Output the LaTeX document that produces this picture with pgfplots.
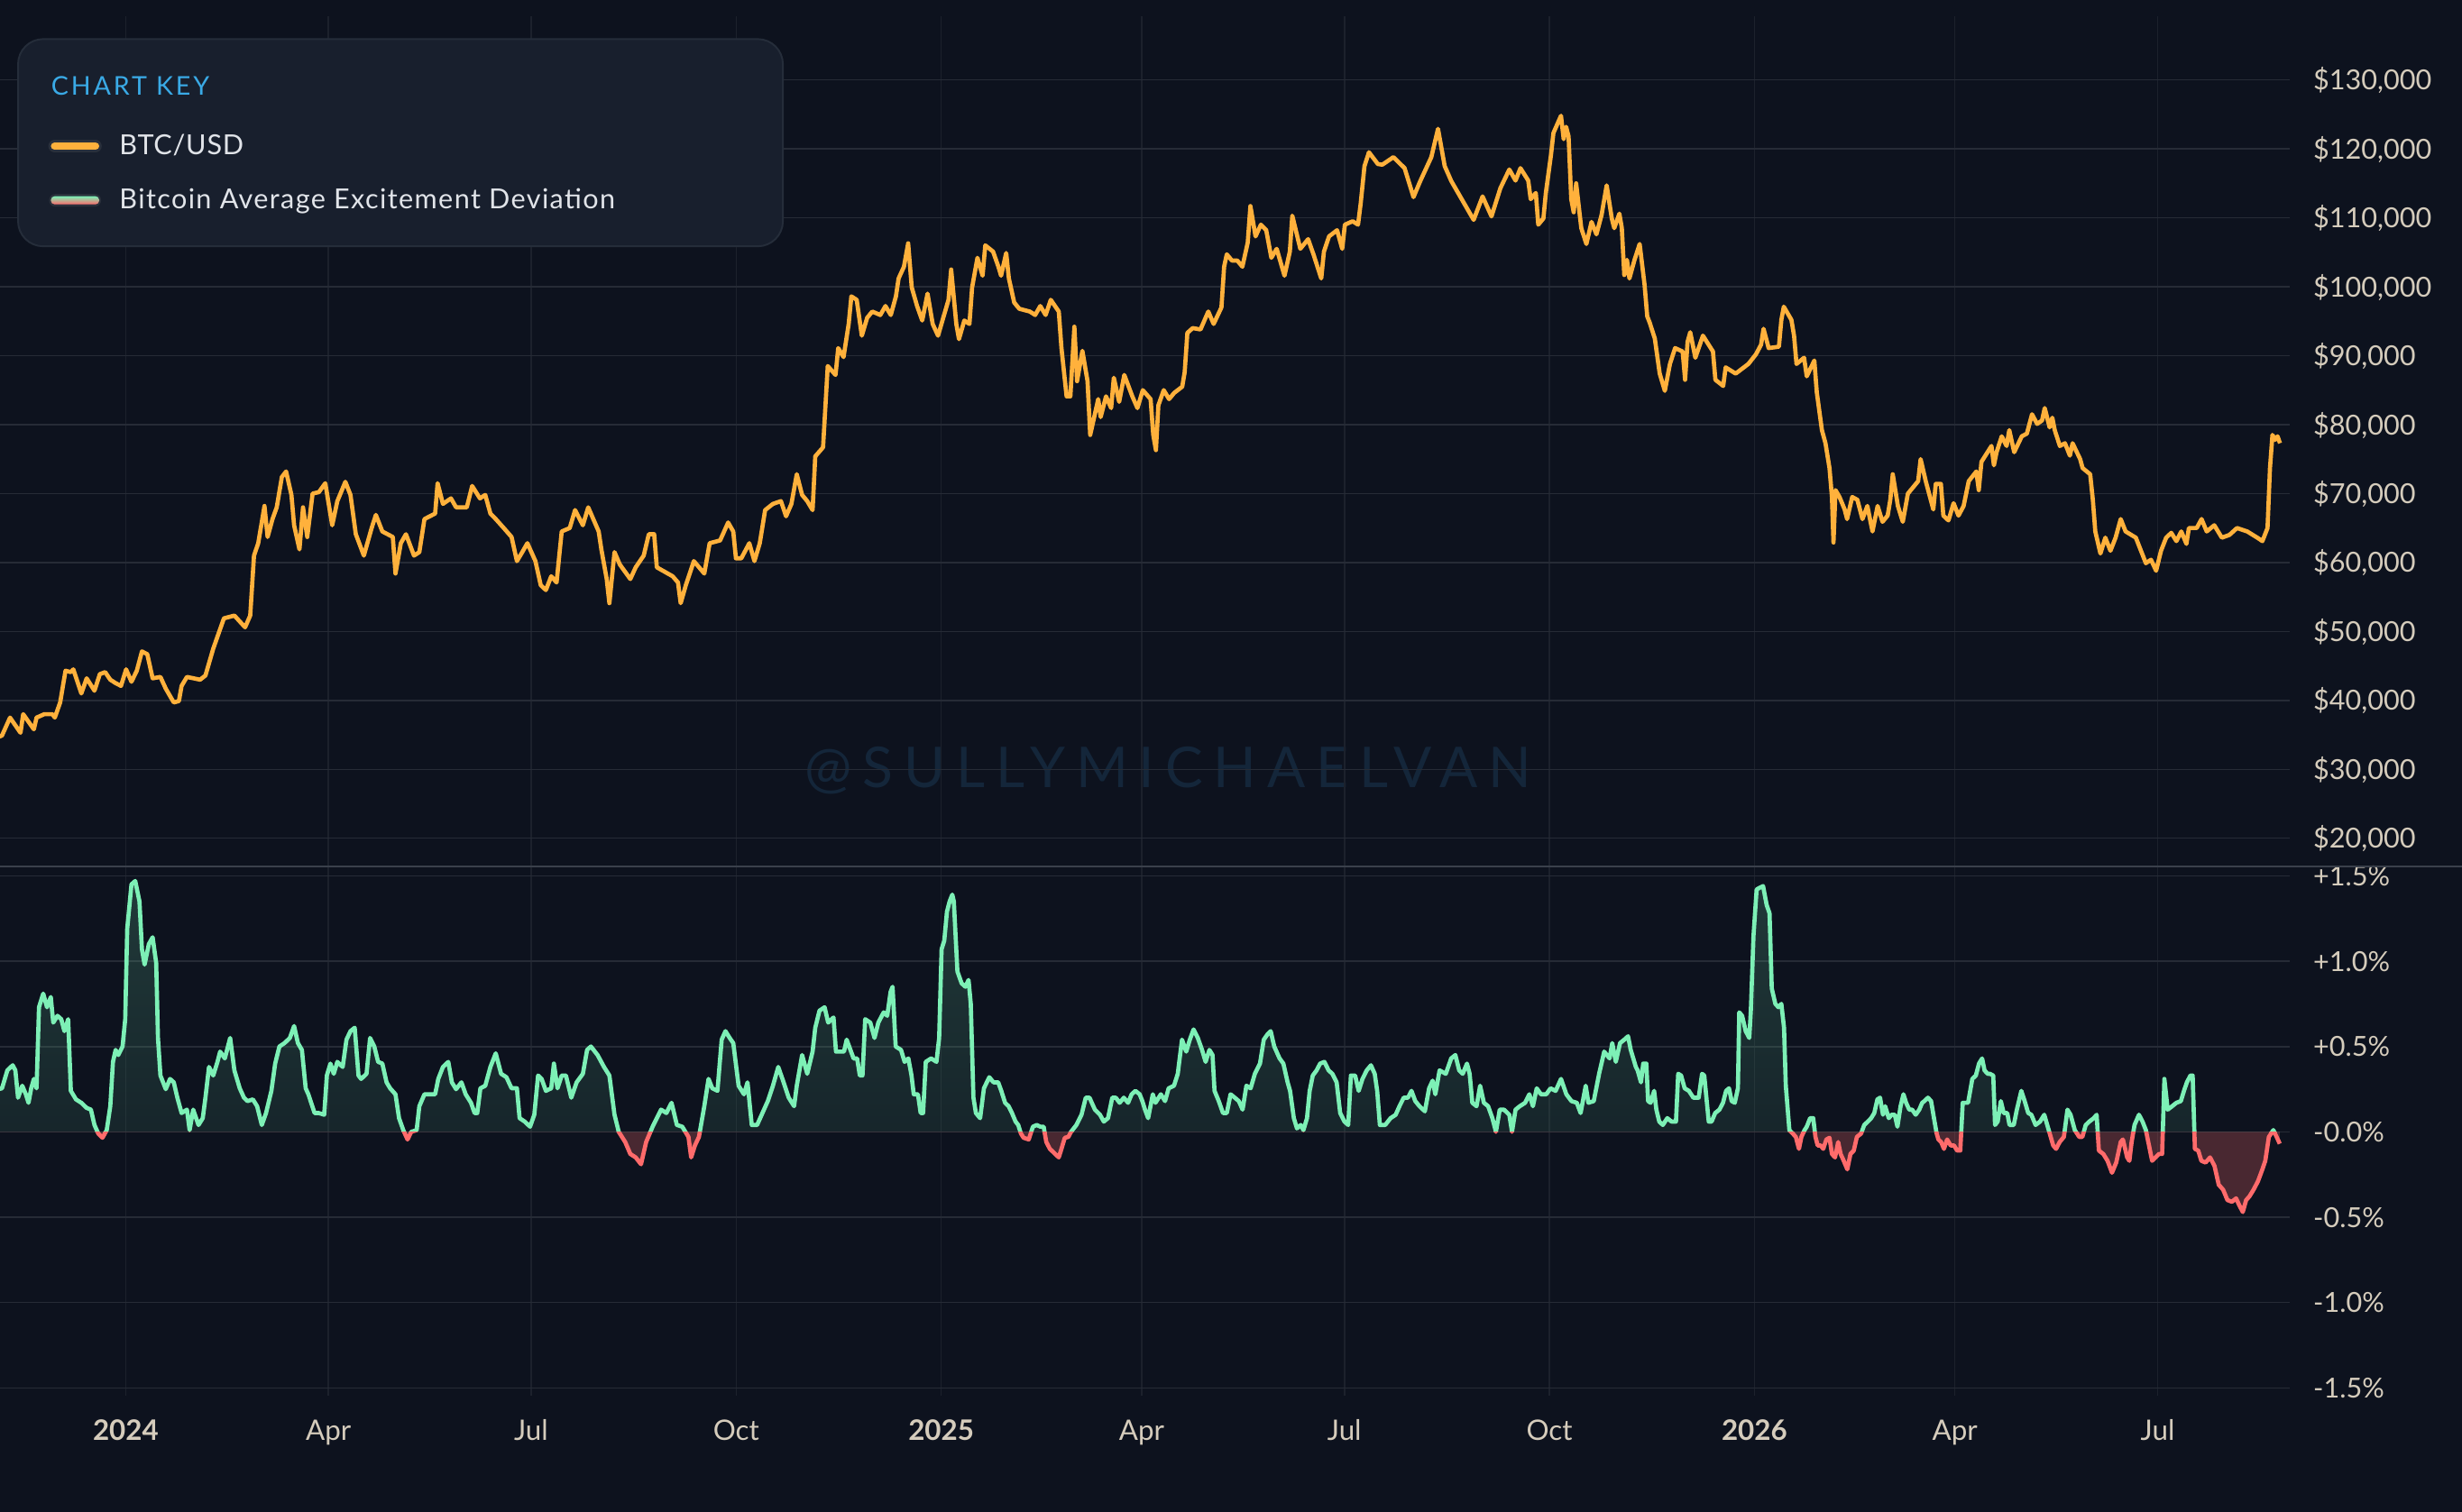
\documentclass[border=0pt]{standalone}
\usepackage{fontspec}
\setmainfont{Lato}
\usepackage{pgfplots}
\usepackage{pgfplotstable}
\pgfplotsset{compat=1.18}

\definecolor{bg}{HTML}{0D121E}
\definecolor{gridc}{HTML}{262B36}
\definecolor{vgridc}{HTML}{1C212C}
\definecolor{sepc}{HTML}{3A404B}
\definecolor{btc}{HTML}{FFB13C}
\definecolor{gup}{HTML}{7DF0B6}
\definecolor{rdn}{HTML}{FF6B6B}
\definecolor{tickc}{HTML}{D5CCBC}
\definecolor{legbg}{HTML}{181F2D}
\definecolor{legbd}{HTML}{252D3A}
\definecolor{keyc}{HTML}{3AAAE6}
\definecolor{legtext}{HTML}{E1E4E9}
\definecolor{wm}{HTML}{14263A}
\definecolor{swo}{HTML}{2A303B}

\pgfplotstableread{
d p
-57 34.7
-55.5 34.9
-51.9 37.5
-47.2 35.3
-46.0 38.0
-41.2 35.8
-40.0 37.5
-36.5 38.0
-32.9 38.0
-31.8 37.5
-29.4 39.7
-27.0 44.3
-24.6 44.1
-23.5 44.5
-19.9 41.0
-17.5 43.2
-14.0 41.4
-11.6 43.8
-9.2 44.1
-6.9 43.0
-4.5 42.5
-2.1 42.1
0.2 44.5
2.6 42.7
5.0 44.3
7.3 47.1
9.7 46.7
12.1 43.2
15.6 43.4
18.0 41.7
21.6 39.7
23.9 39.9
25.1 42.1
27.5 43.4
33.4 43.0
35.8 43.6
39.3 47.5
44.1 51.9
48.8 52.3
53.6 50.6
55.9 52.3
57.6 61.0
59.5 62.8
62.3 68.2
63.7 63.7
65.9 66.3
67.8 68.0
70.1 72.4
72.0 73.2
74.4 69.8
75.6 65.4
78.0 61.9
79.6 68.0
81.5 63.7
83.9 70.0
86.7 70.2
89.6 71.5
92.7 65.4
95.0 68.9
98.6 71.7
100.9 69.8
103.3 64.1
106.9 61.0
110.4 65.0
112.3 66.9
115.2 64.5
119.9 63.7
121.1 58.4
123.5 62.8
125.8 64.1
129.4 61.0
131.8 61.5
134.1 66.3
138.9 67.1
140.0 71.5
142.4 68.5
146.0 69.3
148.3 68.0
153.1 68.0
155.5 71.1
159.0 69.3
161.4 69.8
163.7 67.1
166.1 66.3
169.7 65.0
173.2 63.7
175.6 60.2
178.0 61.5
180.3 62.8
183.9 60.2
186.3 56.7
188.6 56.0
191.0 58.0
193.4 57.1
195.7 64.5
199.3 65.0
201.7 67.6
205.2 65.4
207.6 68.0
212.3 64.5
213.5 61.9
215.9 57.6
217.1 54.1
219.4 61.5
221.8 59.7
226.5 57.6
228.9 59.3
232.5 61.0
234.8 64.1
237.2 64.1
238.4 59.3
245.5 58.0
247.9 57.1
249.1 54.1
251.4 56.7
255.0 60.2
259.7 58.4
262.1 62.8
266.8 63.2
270.4 65.8
272.7 64.5
273.9 60.6
276.3 60.6
279.9 62.8
282.2 60.2
284.6 62.8
287.0 67.6
290.5 68.5
294.1 68.9
296.4 66.7
298.8 68.5
301.2 72.8
303.6 69.8
305.9 68.9
308.3 67.6
309.5 75.4
313.0 76.7
315.1 88.5
318.6 87.2
319.8 91.1
322.2 89.8
324.5 94.6
325.7 98.6
328.1 98.1
330.4 92.9
332.8 95.5
335.1 96.4
338.7 95.9
341.0 97.2
343.4 95.9
345.7 98.6
346.9 101.2
349.3 102.9
351.2 106.3
352.8 99.9
355.2 97.2
357.5 95.1
359.9 99.0
362.2 94.6
364.6 92.9
369.3 98.1
370.5 102.5
372.8 94.6
374.0 92.4
376.4 95.1
378.7 94.6
379.9 99.9
382.3 104.2
384.6 101.6
385.8 106.0
389.3 105.1
391.7 102.9
392.9 101.6
395.2 104.9
396.4 101.2
398.8 97.7
401.1 96.8
405.8 96.4
408.2 95.9
410.5 97.2
412.9 95.9
415.2 98.1
418.8 96.4
420.0 91.1
422.3 84.1
424.0 84.1
425.8 94.2
427.0 86.3
429.4 90.7
431.7 86.3
432.9 78.5
436.5 83.7
437.6 81.1
440.0 84.1
442.3 82.4
443.5 86.8
445.9 83.3
448.2 87.2
451.8 84.1
454.1 82.4
456.5 85.0
460.0 83.7
461.2 78.5
462.4 76.3
463.5 82.8
465.9 85.0
468.3 83.7
470.6 84.6
474.2 85.5
475.3 87.6
476.5 93.3
478.9 94.0
482.4 93.8
485.9 96.4
488.3 94.6
491.8 97.0
493.0 102.9
494.2 104.7
496.5 103.8
498.9 103.8
501.2 102.9
503.6 106.4
504.8 111.7
507.1 107.3
509.5 109.0
511.9 108.2
514.2 104.2
516.6 105.5
520.1 101.6
522.5 105.1
523.6 110.3
527.2 105.5
530.7 106.9
533.1 104.7
536.6 101.2
537.8 105.1
540.1 107.3
543.7 108.2
546.0 105.5
547.2 109.0
550.7 109.5
553.1 109.0
554.3 112.1
556 117.5
558 119.5
562 117.8
564 117.7
569 118.8
574 117.2
578 113.0
581 115.3
586 118.8
589 122.9
592 117.5
595 115.3
600 112.5
605 109.7
609 113.1
613 110.2
617 114.3
621 117.0
623.8 115.4
626.0 117.2
629.5 115.4
630.6 112.7
632.9 113.6
634.0 109.0
636.3 109.9
637.4 113.6
639.7 119.1
640.8 122.3
644.2 124.8
645.4 121.4
646.5 123.2
647.6 121.8
648.8 112.7
649.9 110.8
651.0 115.0
653.3 108.5
655.6 106.2
657.9 109.4
660.1 107.6
662.4 110.4
664.7 114.7
667.0 109.9
668.1 108.5
670.4 110.6
671.5 108.5
672.6 101.7
673.8 103.9
674.9 101.2
677.2 103.9
679.5 106.2
681.7 100.3
682.9 95.7
684.0 94.8
686.3 92.5
688.5 87.4
690.8 84.9
693.1 88.8
695.4 91.1
698.8 90.6
699.9 86.5
701.0 92.0
702.2 93.4
704.5 89.7
707.9 92.9
712.4 90.6
713.5 86.5
717.0 85.6
718.1 88.3
722.6 87.4
728.3 88.8
731.7 90.2
734.0 91.6
735.1 93.9
737.4 91.1
742.0 91.3
743.1 95.2
744.2 97.1
747.6 95.2
748.8 92.9
749.9 88.8
753.3 89.7
754.5 87.0
757.9 89.3
759.0 84.7
761.3 79.2
762.9 77.3
764.7 73.7
765.8 69.5
766.5 62.9
767.4 70.5
769.2 69.5
771.5 67.7
772.6 66.3
774.9 69.5
777.2 69.1
779.5 66.3
781.7 68.2
784.0 64.5
786.3 68.2
788.5 65.9
790.8 66.8
792.0 69.1
793.1 72.8
795.4 68.2
797.6 65.9
799.9 70.0
804.5 71.8
805.6 75.0
807.9 71.8
811.3 67.7
812.4 71.4
814.7 71.4
815.8 66.8
818.1 66.1
820.4 68.6
822.6 66.8
824.9 68.2
827.2 71.8
830.6 73.2
831.7 70.5
832.9 74.6
837.4 76.9
838.5 74.1
839.7 76.0
842.0 78.3
844.2 76.9
845.4 79.2
847.6 76.0
851.0 78.3
853.3 78.7
855.6 81.5
857.9 80.1
860.1 80.6
861.3 82.4
863.5 79.6
864.7 81.0
865.8 79.2
868.1 76.9
870.4 77.3
872.6 75.5
873.8 77.3
877.2 75.0
878.3 73.7
881.7 72.8
882.9 69.1
884.0 64.5
886.3 61.3
888.5 63.6
890.8 61.7
893.1 63.6
895.4 66.3
897.6 64.5
902.2 63.6
904.5 61.7
906.7 59.9
909.0 60.4
911.3 58.8
913.5 61.7
915.8 63.6
918.1 64.3
920.4 63.1
922.6 64.5
924.9 62.7
926.0 65.0
929.5 65.0
931.7 66.3
934.0 64.5
937.4 65.4
940.8 63.6
944.2 64.0
947.6 65.0
952.2 64.5
956.7 63.6
959.0 63.1
961.3 65.0
962.4 73.7
963.5 78.5
964.7 77.8
965.8 78.3
966.9 77.3
}\btcdata

\pgfplotstableread{
d v
-57 0.25
-55.5 0.255
-53.1 0.36
-50.7 0.39
-49.5 0.36
-48.3 0.20
-46.4 0.27
-44.8 0.22
-43.6 0.17
-42.4 0.255
-41.2 0.31
-40.0 0.255
-38.9 0.73
-37.0 0.81
-35.3 0.73
-33.6 0.79
-32.5 0.64
-30.6 0.68
-28.9 0.66
-27.5 0.59
-25.8 0.66
-24.6 0.24
-22.3 0.19
-19.9 0.17
-17.5 0.14
-15.6 0.13
-14.0 0.04
-12.3 -0.01
-10.4 -0.035
-8.5 0.01
-6.9 0.15
-5.7 0.41
-4.5 0.48
-3.3 0.45
-1.4 0.50
-0.2 0.66
0.7 1.19
2.6 1.45
4.3 1.47
6.2 1.35
7.3 1.07
8.5 0.98
10.4 1.10
12.1 1.14
13.7 0.99
14.5 0.55
15.6 0.33
18.0 0.25
19.9 0.31
21.6 0.29
23.2 0.20
25.1 0.11
27.5 0.13
28.7 0.01
30.3 0.13
32.7 0.04
34.6 0.08
35.8 0.20
37.4 0.38
39.3 0.33
41.2 0.41
42.4 0.47
44.5 0.43
46.9 0.55
48.8 0.36
51.2 0.255
53.1 0.20
54.7 0.18
57.1 0.19
59.0 0.15
61.1 0.04
63.0 0.11
65.4 0.24
67.1 0.40
69.0 0.50
71.3 0.52
73.7 0.55
75.6 0.62
77.3 0.52
79.1 0.48
80.8 0.255
82.0 0.22
84.8 0.11
86.7 0.11
89.1 0.10
90.3 0.33
91.9 0.40
93.4 0.34
95.0 0.41
97.4 0.38
99.1 0.54
100.9 0.59
102.8 0.61
104.5 0.33
105.7 0.31
108.1 0.34
109.7 0.55
111.6 0.50
113.3 0.41
115.2 0.40
117.1 0.29
118.7 0.255
121.1 0.22
122.7 0.08
124.6 0.01
126.5 -0.045
128.2 0.0
130.6 0.01
131.8 0.15
134.1 0.22
138.9 0.22
140.3 0.31
142.4 0.38
144.8 0.41
146.4 0.29
148.3 0.25
150.7 0.29
152.6 0.22
155.0 0.17
156.6 0.11
157.8 0.11
159.2 0.255
161.4 0.27
163.7 0.38
166.1 0.46
168.5 0.34
170.9 0.32
173.2 0.255
175.6 0.255
176.8 0.08
179.1 0.06
181.5 0.03
183.4 0.10
185.1 0.33
186.7 0.31
188.6 0.24
191.0 0.255
192.2 0.40
193.8 0.255
195.7 0.33
197.6 0.33
200.0 0.20
202.4 0.29
205.2 0.34
207.1 0.48
208.8 0.50
211.8 0.45
214.7 0.38
217.1 0.33
219.4 0.10
221.3 0.0
224.2 -0.06
226.5 -0.13
228.9 -0.15
231.3 -0.19
233.6 -0.06
236.5 0.03
238.4 0.08
240.3 0.13
242.7 0.11
245.0 0.17
247.4 0.04
249.8 0.03
252.6 -0.03
253.8 -0.15
255.5 -0.08
257.3 -0.03
259.7 0.15
261.6 0.31
263.3 0.255
265.6 0.24
267.5 0.54
269.2 0.59
271.1 0.55
272.7 0.52
275.1 0.27
277.5 0.22
279.1 0.29
281.0 0.04
283.4 0.04
285.8 0.11
288.2 0.18
290.5 0.27
292.9 0.38
295.3 0.29
297.6 0.20
300.0 0.15
301.2 0.27
303.6 0.45
305.9 0.34
308.3 0.47
309.5 0.61
311.4 0.71
313.7 0.73
315.3 0.64
317.7 0.67
318.8 0.47
322.4 0.47
323.6 0.54
326.7 0.43
328.3 0.43
329.5 0.33
330.7 0.33
331.9 0.66
334.2 0.64
336.1 0.55
337.8 0.64
340.2 0.70
341.8 0.68
343.3 0.82
344.2 0.85
345.6 0.50
348.0 0.48
349.6 0.41
351.3 0.43
352.7 0.33
353.7 0.22
355.6 0.22
356.8 0.11
357.9 0.11
359.1 0.41
361.5 0.43
363.9 0.41
365.1 0.55
366.2 1.07
367.4 1.12
368.6 1.29
369.8 1.35
371.0 1.39
371.7 1.35
373.3 0.94
375.2 0.87
376.9 0.85
378.3 0.89
379.3 0.75
380.5 0.20
381.6 0.11
383.5 0.08
385.2 0.255
387.6 0.32
389.5 0.29
391.6 0.29
393.0 0.24
394.7 0.17
396.3 0.15
397.8 0.11
399.4 0.06
400.6 0.04
401.8 -0.01
403.0 -0.035
405.3 -0.045
407.2 0.03
408.9 0.04
410.5 0.03
412.0 0.03
413.2 -0.06
414.8 -0.10
417.2 -0.13
418.8 -0.15
420.0 -0.10
421.5 -0.035
423.1 -0.03
424.3 0.0
426.7 0.04
429.0 0.10
430.9 0.20
432.6 0.20
435.0 0.13
437.3 0.10
439.0 0.06
440.9 0.08
442.8 0.20
444.4 0.20
446.1 0.17
448.0 0.20
449.9 0.17
451.5 0.22
453.2 0.24
455.1 0.22
456.3 0.18
457.5 0.13
458.9 0.08
461.0 0.22
462.2 0.17
464.6 0.22
466.5 0.18
468.1 0.255
470.5 0.27
472.2 0.34
474.1 0.54
476.0 0.47
477.6 0.54
479.3 0.60
481.2 0.55
483.1 0.48
484.7 0.41
486.4 0.48
487.8 0.45
488.7 0.24
490.6 0.18
492.5 0.11
494.2 0.11
495.9 0.22
497.8 0.20
499.6 0.18
501.3 0.13
503.0 0.27
504.9 0.255
506.8 0.34
509.1 0.40
510.8 0.54
512.4 0.57
513.9 0.59
515.5 0.50
517.9 0.43
519.6 0.40
521.5 0.29
522.6 0.24
524.3 0.08
525.7 0.02
527.4 0.04
528.6 0.01
530.2 0.08
531.4 0.24
532.8 0.33
534.5 0.36
536.1 0.40
538.0 0.41
539.9 0.36
541.6 0.34
543.5 0.29
545.1 0.11
547.0 0.06
548.7 0.04
549.9 0.33
551.8 0.33
553.4 0.24
555.1 0.31
557.0 0.36
558.9 0.39
560.6 0.34
561.7 0.24
562.9 0.04
565.3 0.04
567.7 0.08
570.0 0.10
571.7 0.15
573.6 0.20
575.5 0.20
577.1 0.24
578.8 0.18
580.7 0.15
583.1 0.12
585.0 0.255
586.6 0.30
587.8 0.22
589.7 0.36
592.5 0.34
594.9 0.43
596.8 0.45
598.5 0.36
600.1 0.34
602.0 0.40
603.2 0.34
604.4 0.17
606.3 0.15
607.9 0.27
609.6 0.17
611.5 0.15
613.4 0.08
615.0 0.0
616.7 0.13
618.6 0.13
621.0 0.10
622.2 0.0
623.8 0.13
625.7 0.15
628.1 0.17
630.0 0.22
631.6 0.15
633.3 0.255
635.2 0.22
637.6 0.22
639.5 0.255
641.8 0.24
644.2 0.31
646.6 0.22
648.9 0.18
651.3 0.17
653.0 0.11
655.3 0.27
656.5 0.17
658.9 0.18
661.3 0.34
663.6 0.47
666.0 0.43
667.2 0.52
668.8 0.41
670.7 0.52
672.6 0.54
674.3 0.56
675.5 0.48
677.8 0.38
678.6 0.36
680.1 0.29
681.1 0.40
682.5 0.40
683.3 0.18
684.4 0.17
686.0 0.24
687.0 0.13
688.3 0.06
689.9 0.04
691.9 0.08
693.8 0.06
695.8 0.06
696.8 0.34
698.1 0.33
699.7 0.255
701.6 0.24
703.6 0.20
706.0 0.20
707.5 0.34
708.5 0.33
710.5 0.06
711.8 0.06
713.4 0.11
715.3 0.13
716.9 0.17
718.3 0.24
719.6 0.255
720.8 0.18
722.2 0.17
723.6 0.255
724.2 0.70
725.5 0.68
727.1 0.59
728.7 0.55
729.4 0.71
730.6 1.15
732.0 1.42
733.3 1.43
734.9 1.44
736.5 1.33
737.8 1.28
738.8 0.84
740.4 0.75
741.8 0.73
743.1 0.75
744.3 0.61
745.1 0.27
746.7 0.01
748.2 -0.01
749.6 -0.03
751.0 -0.10
752.1 -0.03
753.5 0.01
754.5 0.03
756.0 0.08
757.4 0.08
758.4 -0.03
759.4 -0.08
760.7 -0.08
761.9 -0.10
763.3 -0.045
764.7 -0.035
765.8 -0.13
767.2 -0.15
768.6 -0.06
769.7 -0.13
771.1 -0.17
772.7 -0.22
774.1 -0.13
775.6 -0.11
777.0 -0.03
778.9 -0.01
780.3 0.04
781.9 0.06
783.4 0.08
784.8 0.11
786.2 0.19
787.4 0.20
788.7 0.10
789.7 0.15
791.3 0.08
792.6 0.10
794.0 0.10
795.2 0.03
796.6 0.15
797.9 0.22
799.1 0.17
800.5 0.13
801.8 0.13
803.4 0.10
805.0 0.13
806.3 0.17
807.3 0.18
808.9 0.20
810.3 0.18
811.6 0.08
812.8 -0.01
813.6 -0.045
814.8 -0.06
816.1 -0.10
817.5 -0.045
819.1 -0.08
820.6 -0.08
822.0 -0.11
823.4 -0.11
824.5 0.17
826.9 0.17
828.8 0.31
830.4 0.33
831.8 0.40
833.2 0.43
834.3 0.36
835.7 0.34
836.7 0.34
838.2 0.33
839.0 0.04
840.2 0.06
841.6 0.18
842.9 0.11
844.5 0.11
845.5 0.04
847.4 0.04
848.8 0.13
850.8 0.24
852.3 0.18
853.9 0.11
855.3 0.10
857.2 0.04
859.2 0.06
861.1 0.10
863.1 0.01
865.1 -0.08
866.4 -0.10
868.0 -0.06
869.9 -0.03
871.5 0.13
872.9 0.10
874.8 0.01
876.8 -0.03
878.2 -0.03
879.7 0.04
881.3 0.06
883.3 0.08
884.6 0.10
885.6 -0.11
887.6 -0.13
889.5 -0.17
891.5 -0.24
893.4 -0.18
895.4 -0.06
896.4 -0.045
898.3 -0.15
899.3 -0.17
900.3 -0.06
901.6 0.04
903.6 0.10
905.2 0.06
906.7 0.01
908.1 -0.08
909.5 -0.17
911.0 -0.15
912.6 -0.13
914.0 -0.13
915.0 0.31
916.5 0.13
918.5 0.15
920.4 0.17
922.4 0.18
923.8 0.24
925.1 0.29
926.7 0.33
927.7 0.33
928.7 -0.10
930.2 -0.11
931.6 -0.17
933.5 -0.18
935.5 -0.15
937.5 -0.20
939.4 -0.31
941.4 -0.34
943.3 -0.40
945.3 -0.41
947.2 -0.39
948.6 -0.43
950.2 -0.47
951.7 -0.40
953.1 -0.38
955.0 -0.34
957.0 -0.29
959.0 -0.22
960.3 -0.17
961.9 -0.03
963.9 0.01
965.4 -0.03
966.8 -0.07
}\baeddata

\begin{document}
\begin{tikzpicture}
\fill[bg] (0,0) rectangle (39.2,-24.075);

% watermark
\node[text=wm, inner sep=0pt, font=\fontsize{25.5}{30}\selectfont\addfontfeature{LetterSpace=19}] at (18.6,-12.265) {@SULLYMICHAELVAN};

% ---------- top panel ----------
\begin{axis}[
  at={(0cm,-13.8cm)}, anchor=south west,
  scale only axis, width=36.45cm, height=13.5375cm,
  xmin=-56.4, xmax=971.1, ymin=15.9, ymax=139.2,
  axis line style={draw=none}, tick style={draw=none},
  xtick={0,91,182,274,366,456,547,639,731,821,912},
  xticklabel style={opacity=0, text opacity=0},
  ytick={20,30,40,50,60,70,80,90,100,110,120,130},
  yticklabels={{\$20,000},{\$30,000},{\$40,000},{\$50,000},{\$60,000},{\$70,000},{\$80,000},{\$90,000},{\$100,000},{\$110,000},{\$120,000},{\$130,000}},
  yticklabel pos=right,
  yticklabel style={anchor=base west, inner sep=0pt, xshift=0.375cm, yshift=-0.159cm, text=tickc, font=\fontsize{12.5}{15}\selectfont},
  xmajorgrids, ymajorgrids,
  x grid style={vgridc, line width=0.6pt},
  y grid style={gridc, line width=0.6pt},
]
\addplot[btc, line width=1.9pt, line join=round] table[x=d, y=p] {\btcdata};
\end{axis}

% ---------- bottom panel: grid and labels ----------
\begin{axis}[
  at={(0cm,-22.225cm)}, anchor=south west,
  scale only axis, width=36.45cm, height=8.425cm,
  xmin=-56.4, xmax=971.1, ymin=-1.545, ymax=1.555,
  axis line style={draw=none}, tick style={draw=none},
  xtick={0,91,182,274,366,456,547,639,731,821,912},
  xticklabels={\textbf{2024},Apr,Jul,Oct,\textbf{2025},Apr,Jul,Oct,\textbf{2026},Apr,Jul},
  xticklabel style={anchor=base, inner sep=0pt, yshift=-0.708cm, text=tickc, font=\fontsize{12.8}{15}\selectfont},
  ytick={-1.5,-1,-0.5,0,0.5,1,1.5},
  yticklabels={{-1.5\%},{-1.0\%},{-0.5\%},{-0.0\%},{+0.5\%},{+1.0\%},{+1.5\%}},
  yticklabel pos=right,
  yticklabel style={anchor=base west, inner sep=0pt, xshift=0.375cm, yshift=-0.159cm, text=tickc, font=\fontsize{12.5}{15}\selectfont},
  xmajorgrids, ymajorgrids,
  x grid style={vgridc, line width=0.6pt},
  y grid style={gridc, line width=0.6pt},
]
\addplot[draw=none, forget plot] coordinates {(0,0)};
\end{axis}

% positive part
\begin{axis}[
  at={(0cm,-18.025cm)}, anchor=south west,
  scale only axis, width=36.45cm, height=4.2257cm,
  xmin=-56.4, xmax=971.1, ymin=0, ymax=1.555,
  hide axis, clip=true,
]
\addplot[draw=none, top color=gup, bottom color=gup!33!bg, fill opacity=0.18] table[x=d, y=v] {\baeddata} \closedcycle;
\addplot[gup, line width=1.9pt, line join=round] table[x=d, y=v] {\baeddata};
\end{axis}

% negative part
\begin{axis}[
  at={(0cm,-22.2235cm)}, anchor=south west,
  scale only axis, width=36.45cm, height=4.1985cm,
  xmin=-56.4, xmax=971.1, ymin=-1.545, ymax=0,
  hide axis, clip=true,
]
\addplot[draw=none, fill=rdn, fill opacity=0.25] table[x=d, y=v] {\baeddata} \closedcycle;
\addplot[rdn, line width=1.9pt, line join=round] table[x=d, y=v] {\baeddata};
\end{axis}

% separator
\draw[sepc, line width=1pt] (0,-13.8) -- (39.2,-13.8);

% legend
\fill[legbg, draw=legbd, line width=0.8pt, rounded corners=0.4cm] (0.2875,-0.6225) rectangle (12.465,-3.9225);
\node[anchor=base west, inner sep=0pt, text=keyc, font=\fontsize{11.7}{14}\selectfont\addfontfeature{LetterSpace=10}] at (0.81,-1.5175) {CHART KEY};
\draw[swo, line width=0.2cm, line cap=round] (0.87,-2.329) -- (1.52,-2.329);
\draw[btc, line width=0.12cm, line cap=round] (0.87,-2.329) -- (1.52,-2.329);
\node[anchor=base west, inner sep=0pt, text=legtext, font=\fontsize{12.5}{15}\selectfont\addfontfeature{LetterSpace=2.5}] at (1.895,-2.465) {BTC/USD};
\fill[swo, rounded corners=0.1cm] (0.78,-3.09) rectangle (1.61,-3.29);
\shade[top color=gup, bottom color=rdn, rounded corners=0.06cm] (0.81,-3.125) rectangle (1.58,-3.255);
\node[anchor=base west, inner sep=0pt, text=legtext, font=\fontsize{12.5}{15}\selectfont\addfontfeature{LetterSpace=4.5}] at (1.895,-3.325) {Bitcoin Average Excitement Deviation};

\pgfresetboundingbox
\path[use as bounding box] (0,0) rectangle (39.2,-24.075);
\end{tikzpicture}
\end{document}
